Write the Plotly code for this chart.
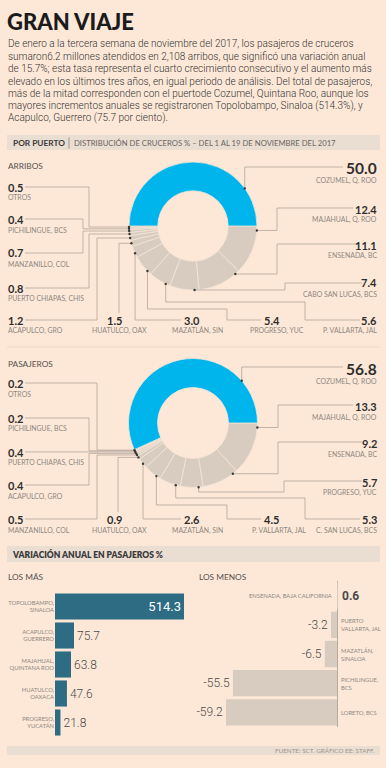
import math
import plotly.graph_objects as go

W, H = 386, 768

# ------------------------------------------------------------------ data
TITLE = "GRAN VIAJE"
INTRO = [
    "De enero a la tercera semana de noviembre del 2017, los pasajeros de cruceros",
    "sumaron6.2 millones atendidos en 2,108 arribos, que significó una variación anual",
    "de 15.7%; esta tasa representa el cuarto crecimiento consecutivo y el aumento más",
    "elevado en los últimos tres años, en igual periodo de análisis. Del total de pasajeros,",
    "más de la mitad corresponden con el puertode Cozumel, Quintana Roo, aunque los",
    "mayores incrementos anuales se registraronen Topolobampo, Sinaloa (514.3%), y",
    "Acapulco, Guerrero (75.7 por ciento).",
]
SEC1_BOLD = "POR PUERTO"
SEC1_TEXT = "DISTRIBUCIÓN DE CRUCEROS % – DEL 1 AL 19 DE NOVIEMBRE DEL 2017"

arribos_title = "ARRIBOS"
arribos_ports = ["COZUMEL, Q. ROO", "MAJAHUAL, Q. ROO", "ENSENADA, BC", "CABO SAN LUCAS, BCS",
                 "P. VALLARTA, JAL", "PROGRESO, YUC", "MAZATLÁN, SIN", "HUATULCO, OAX",
                 "ACAPULCO, GRO", "PUERTO CHIAPAS, CHIS", "MANZANILLO, COL", "PICHILINGUE, BCS", "OTROS"]
arribos_pct = [50.0, 12.4, 11.1, 7.4, 5.6, 5.4, 3.0, 1.5, 1.2, 0.8, 0.7, 0.4, 0.5]

pasajeros_title = "PASAJEROS"
pasajeros_ports = ["COZUMEL, Q. ROO", "MAJAHUAL, Q. ROO", "ENSENADA, BC", "PROGRESO, YUC",
                   "C. SAN LUCAS, BCS", "P. VALLARTA, JAL", "MAZATLÁN, SIN", "HUATULCO, OAX",
                   "MANZANILLO, COL", "ACAPULCO, GRO", "PUERTO CHIAPAS, CHIS", "PICHILINGUE, BCS", "OTROS"]
pasajeros_pct = [56.8, 13.3, 9.2, 5.7, 5.3, 4.5, 2.6, 0.9, 0.5, 0.4, 0.4, 0.2, 0.2]

SEC2_TEXT = "VARIACIÓN ANUAL EN PASAJEROS %"
mas_title = "LOS MÁS"
mas_ports = ["TOPOLOBAMPO,<br>SINALOA", "ACAPULCO,<br>GUERRERO", "MAJAHUAL,<br>QUINTANA ROO",
             "HUATULCO,<br>OAXACA", "PROGRESO,<br>YUCATÁN"]
mas_var = [514.3, 75.7, 63.8, 47.6, 21.8]
menos_title = "LOS MENOS"
menos_ports = ["ENSENADA, BAJA CALIFORNIA", "PUERTO<br>VALLARTA, JAL", "MAZATLÁN,<br>SINALOA",
               "PICHILINGUE,<br>BCS", "LORETO, BCS"]
menos_var = [0.6, -3.2, -6.5, -55.5, -59.2]
SOURCE = "FUENTE: SCT. GRÁFICO EE: STAFF."

# ------------------------------------------------------------------ style
BG = "#fde8d7"
BAND = "#eaddd2"
BLUE = "#00b4ec"
GRAY = "#d8ccc0"
TEAL = "#2d6c83"
LINE = "#b1a59a"
DARK = "#2e2e2e"
MID = "#555050"
LIGHT = "#8e8781"
SANS = "Lato, Noto Sans, sans-serif"
NARROW = "Roboto, Lato, sans-serif"

def X(px):
    return px / W

def Y(py):
    return 1 - py / H

annotations = []
shapes = []

def text(x, y, s, size, color=DARK, anchor="left", weight=None, family=SANS, align=None):
    annotations.append(dict(
        x=X(x), y=Y(y), xref="paper", yref="paper", text=s, showarrow=False,
        xanchor=anchor, yanchor="middle", borderpad=0, align=align or anchor,
        font=dict(size=size, color=color, family=family, weight=weight)))

def rect(x0, y0, x1, y1, color):
    shapes.append(dict(type="rect", xref="paper", yref="paper", x0=X(x0), x1=X(x1),
                       y0=Y(y1), y1=Y(y0), fillcolor=color, line=dict(width=0), layer="below"))

def hline(x0, x1, y, color, width=1):
    shapes.append(dict(type="line", xref="paper", yref="paper", x0=X(x0), x1=X(x1),
                       y0=Y(y), y1=Y(y), line=dict(color=color, width=width), layer="below"))

# ------------------------------------------------------------------ header
text(6, 21, TITLE, 22, "#1b1b1b", weight=900)
for i, line in enumerate(INTRO):
    text(7, 44 + i * 12.35, line, 10.0, "#333333", family=NARROW, weight=300)

rect(7, 135, 380, 150, BAND)
text(12, 143, SEC1_BOLD, 8.3, "#3a3a3a", weight=700)
shapes.append(dict(type="line", xref="paper", yref="paper", x0=X(69), x1=X(69), y0=Y(137.5),
                   y1=Y(148.5), line=dict(color="#8d857e", width=0.8)))
text(73, 143, SEC1_TEXT, 7.7, "#6b6560")

hline(7, 380, 347, "#eed8c7", 1)

# ------------------------------------------------------------------ donuts
# label layout: number position, name position, leader route (from slice point)
ARR_LAYOUT = {
    "COZUMEL, Q. ROO":      dict(num=(378, 168, "right"), name=(378, 180, "right"), route=[("px", 167), (343, 167)]),
    "MAJAHUAL, Q. ROO":     dict(num=(378, 209, "right"), name=(378, 219.5, "right"), route=[(277, "py"), (277, 208), (353, 208)]),
    "ENSENADA, BC":         dict(num=(378, 245, "right"), name=(378, 256, "right"), route=[(277, "py"), (277, 244), (359, 244)]),
    "CABO SAN LUCAS, BCS":  dict(num=(378, 283, "right"), name=(378, 294, "right"), route=[(285, "py"), (285, 283), (362, 283)]),
    "P. VALLARTA, JAL":     dict(num=(378, 320, "right"), name=(378, 331, "right"), route=[("px", 302), (305, 302), (305, 320), (360, 320)]),
    "PROGRESO, YUC":        dict(num=(271.5, 320, "center"), name=(276.5, 331, "center"), route=[("px", 309), (227, 309), (227, 320), (261, 320)]),
    "MAZATLÁN, SIN":        dict(num=(191.5, 320, "center"), name=(197.5, 331, "center"), route=[("px", 320), (181, 320)]),
    "HUATULCO, OAX":        dict(num=(114, 320, "center"), name=(119.5, 331, "center"), route=[(119, "py"), (119, 313)]),
    "ACAPULCO, GRO":        dict(num=(7, 320, "left"), name=(7, 331, "left"), route=[(97, "py"), (97, 320), (25, 320)]),
    "PUERTO CHIAPAS, CHIS": dict(num=(7, 288, "left"), name=(7, 298.5, "left"), route=[(89, "py"), (89, 288), (25, 288)]),
    "MANZANILLO, COL":      dict(num=(7, 253, "left"), name=(7, 264, "left"), route=[(83, "py"), (83, 253), (25, 253)]),
    "PICHILINGUE, BCS":     dict(num=(7, 219, "left"), name=(7, 230, "left"), route=[(83, "py"), (83, 219), (25, 219)]),
    "OTROS":                dict(num=(7, 187, "left"), name=(7, 197.5, "left"), route=[(89, "py"), (89, 187), (25, 187)]),
}
PAS_LAYOUT = {
    "COZUMEL, Q. ROO":      dict(num=(378, 369, "right"), name=(378, 381, "right"), route=[("px", 367), (343, 367)]),
    "MAJAHUAL, Q. ROO":     dict(num=(378, 406, "right"), name=(378, 417, "right"), route=[(278, "py"), (278, 405), (353, 405)]),
    "ENSENADA, BC":         dict(num=(378, 443, "right"), name=(378, 454, "right"), route=[(278, "py"), (278, 442), (362, 442)]),
    "PROGRESO, YUC":        dict(num=(378, 482, "right"), name=(378, 492.5, "right"), route=[("px", 492), (284, 492), (284, 481), (362, 481)]),
    "C. SAN LUCAS, BCS":    dict(num=(378, 519, "right"), name=(378, 530, "right"), route=[("px", 498), (305, 498), (305, 519), (360, 519)]),
    "P. VALLARTA, JAL":     dict(num=(271.5, 519, "center"), name=(279, 530, "center"), route=[("px", 505), (227, 505), (227, 519), (261, 519)]),
    "MAZATLÁN, SIN":        dict(num=(191.5, 519, "center"), name=(197.5, 530, "center"), route=[("px", 519), (181, 519)]),
    "HUATULCO, OAX":        dict(num=(114, 519, "center"), name=(119.5, 530, "center"), route=[(118, "py"), (118, 512)]),
    "MANZANILLO, COL":      dict(num=(7, 519, "left"), name=(7, 530, "left"), route=[(97, "py"), (97, 519), (25, 519)]),
    "ACAPULCO, GRO":        dict(num=(7, 485, "left"), name=(7, 496, "left"), route=[(89, "py"), (89, 485), (25, 485)]),
    "PUERTO CHIAPAS, CHIS": dict(num=(7, 452, "left"), name=(7, 462.5, "left"), route=[(25, "py")]),
    "PICHILINGUE, BCS":     dict(num=(7, 418, "left"), name=(7, 428, "left"), route=[(89, "py"), (89, 418), (25, 418)]),
    "OTROS":                dict(num=(7, 383, "left"), name=(7, 394, "left"), route=[(97, "py"), (97, 383), (25, 383)]),
}

traces = []

def donut(ports, values, title, title_y, cx, cy, r, layout):
    featured = ports[0]
    order_p = ports[1:] + ports[:1]
    order_v = values[1:] + values[:1]
    colors = [BLUE if p == featured else GRAY for p in order_p]
    traces.append(go.Pie(
        labels=order_p, values=order_v, sort=False, direction="clockwise", rotation=90,
        hole=0.55, textinfo="none", showlegend=False,
        marker=dict(colors=colors, line=dict(color="#f3e4d7", width=0.8)),
        domain=dict(x=[X(cx - r), X(cx + r)], y=[Y(cy + r), Y(cy - r)]),
        hovertemplate="%{label}: %{value}%<extra></extra>"))
    text(7, title_y, title, 8.3, MID)
    total = sum(order_v)
    cum = 0.0
    for p, v in zip(order_p, order_v):
        start = 90 + 360 * cum / total
        width = 360 * v / total
        cum += v
        if p == featured:
            a = start + 0.8 * width
        else:
            a = start + min(4.0, width / 2)
        rad = math.radians(a)
        px = cx + r * math.sin(rad)
        py = cy - r * math.cos(rad)
        spec = layout[p]
        pts = [(px, py)]
        for wx, wy in spec["route"]:
            pts.append((px if wx == "px" else wx, py if wy == "py" else wy))
        path = "M " + " L ".join(f"{X(a_):.5f},{Y(b_):.5f}" for a_, b_ in pts)
        shapes.append(dict(type="path", xref="paper", yref="paper", path=path,
                           line=dict(color=LINE, width=0.8), layer="above"))
        shapes.append(dict(type="circle", xref="paper", yref="paper",
                           x0=X(px - 1.2), x1=X(px + 1.2), y0=Y(py + 1.2), y1=Y(py - 1.2),
                           fillcolor="#3a3a3a", line=dict(width=0), layer="above"))
        nx, ny, na = spec["num"]
        big = p == featured
        text(nx, ny, f"{v:.1f}", 15.5 if big else 11, DARK, na, weight=700)
        mx, my, ma = spec["name"]
        text(mx, my, p, 6.9, LIGHT, ma)

donut(arribos_ports, arribos_pct, arribos_title, 166, 193, 226, 64, ARR_LAYOUT)
donut(pasajeros_ports, pasajeros_pct, pasajeros_title, 364, 193, 423, 64.5, PAS_LAYOUT)

# ------------------------------------------------------------------ bars
rect(7, 546, 380, 562, BAND)
text(11, 554, SEC2_TEXT, 8.5, "#3a3a3a", weight=800)
text(7, 577, mas_title, 8.3, MID)
text(198, 577, menos_title, 8.3, MID)

# left: los más
mas_zero, mas_end = 55, 184
vmax = max(mas_var)
traces.append(go.Bar(
    y=mas_ports, x=mas_var, orientation="h", xaxis="x2", yaxis="y2",
    marker=dict(color=TEAL, line=dict(width=0)), showlegend=False,
    text=[f"{v:.1f}" for v in mas_var],
    textposition=["inside" if v > 0.5 * vmax else "outside" for v in mas_var],
    insidetextanchor="end",
    insidetextfont=dict(color="white", size=13, family=NARROW),
    outsidetextfont=dict(color="#4a4a4a", size=12, family=NARROW, weight=300),
    constraintext="none", cliponaxis=False,
    hovertemplate="%{y}: %{x}<extra></extra>"))

# right: los menos
menos_zero = 337
scale = (menos_zero - 226) / abs(min(menos_var))
vmin_r, vmax_r = min(menos_var), max(menos_var)
traces.append(go.Bar(
    y=menos_ports, x=menos_var, orientation="h", xaxis="x3", yaxis="y3",
    marker=dict(color=GRAY, line=dict(width=0)), showlegend=False,
    text=[f"<b>{v:.1f}</b>" if v > 0 else f"{v:.1f}" for v in menos_var],
    textposition="outside",
    outsidetextfont=dict(color="#4a4a4a", size=12, family=NARROW, weight=300),
    constraintext="none", cliponaxis=False,
    hovertemplate="%{y}: %{x}<extra></extra>"))
for i, (p, v) in enumerate(zip(menos_ports, menos_var)):
    annotations.append(dict(
        x=0, y=i, xref="x3", yref="y3", text=p, showarrow=False,
        xanchor="left" if v < 0 else "right", xshift=3 if v < 0 else -4,
        align="left" if v < 0 else "right", yanchor="middle", borderpad=0,
        font=dict(size=5.8, color=LIGHT, family=SANS)))

rect(7, 746, 380, 755, BAND)
text(376, 750.5, SOURCE, 6.3, "#a0968e", "right")

fig = go.Figure(traces)
fig.update_layout(
    width=W, height=H, margin=dict(l=0, r=0, t=0, b=0),
    paper_bgcolor=BG, plot_bgcolor="rgba(0,0,0,0)",
    bargap=0.1, showlegend=False,
    annotations=annotations, shapes=shapes,
    xaxis2=dict(domain=[X(mas_zero), X(mas_end)], range=[0, vmax], visible=False, fixedrange=True),
    yaxis2=dict(domain=[Y(737), Y(592)], autorange="reversed", type="category",
                showgrid=False, zeroline=False, showline=False, ticks="",
                tickfont=dict(size=5.8, color=LIGHT, family=SANS), fixedrange=True, anchor="x2"),
    xaxis3=dict(domain=[X(menos_zero + vmin_r * scale), X(menos_zero + vmax_r * scale)],
                range=[vmin_r, vmax_r], showgrid=False, showticklabels=False, ticks="",
                zeroline=True, zerolinecolor="#b7aa9e", zerolinewidth=1, showline=False,
                fixedrange=True, anchor="y3"),
    yaxis3=dict(domain=[Y(727), Y(581)], autorange="reversed", type="category",
                showgrid=False, zeroline=False, showline=False, ticks="", showticklabels=False,
                fixedrange=True, anchor="x3"),
    font=dict(family=SANS),
)
fig.write_html(
    "out.html",
    config={"displayModeBar": False},
    post_script="document.body.style.margin='0';document.body.style.overflow='hidden';",
)
